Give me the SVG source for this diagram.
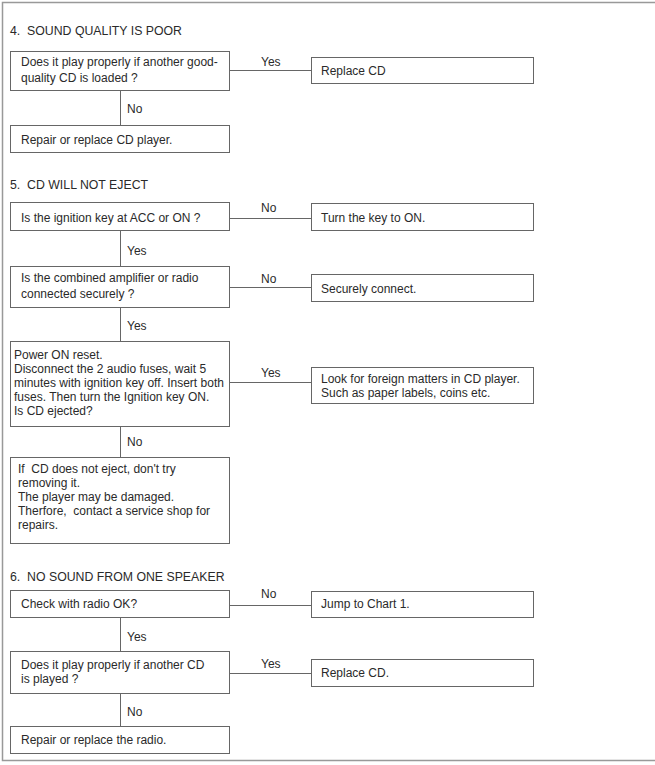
<svg xmlns="http://www.w3.org/2000/svg" width="655" height="765" viewBox="0 0 655 765">
<style>
  .bg{fill:#ffffff}
  .frame{fill:none;stroke:#999;stroke-width:1.5}
  .box{fill:#fff;stroke:#666;stroke-width:1}
  .ln{fill:none;stroke:#666;stroke-width:1}
  text{font-family:"Liberation Sans",Arial,sans-serif;font-size:12px;fill:#2a2a2a}
  .title{font-size:12.3px}
</style>
<rect class="bg" x="0" y="0" width="655" height="765"/>
<path class="frame" d="M660,2.5 H2.5 V760.5 H660"/>

<g id="connectors">
  <line class="ln" x1="230" y1="70.5" x2="311" y2="70.5"/>
  <line class="ln" x1="120.5" y1="90" x2="120.5" y2="125"/>
  <line class="ln" x1="230" y1="218.5" x2="311" y2="218.5"/>
  <line class="ln" x1="120.5" y1="230" x2="120.5" y2="266"/>
  <line class="ln" x1="230" y1="287.5" x2="311" y2="287.5"/>
  <line class="ln" x1="120.5" y1="307" x2="120.5" y2="341"/>
  <line class="ln" x1="230" y1="382.5" x2="311" y2="382.5"/>
  <line class="ln" x1="120.5" y1="426" x2="120.5" y2="457"/>
  <line class="ln" x1="230" y1="605.5" x2="311" y2="605.5"/>
  <line class="ln" x1="120.5" y1="617" x2="120.5" y2="651"/>
  <line class="ln" x1="230" y1="673.5" x2="311" y2="673.5"/>
  <line class="ln" x1="120.5" y1="693" x2="120.5" y2="726"/>
  <text x="261" y="66">Yes</text>
  <text x="127" y="113">No</text>
  <text x="261" y="212">No</text>
  <text x="127" y="255">Yes</text>
  <text x="261" y="283">No</text>
  <text x="127" y="330">Yes</text>
  <text x="261" y="377">Yes</text>
  <text x="127" y="446">No</text>
  <text x="261" y="598">No</text>
  <text x="127" y="641">Yes</text>
  <text x="261" y="668">Yes</text>
  <text x="127" y="716">No</text>
</g>

<text class="title" x="10" y="35" xml:space="preserve">4.  SOUND QUALITY IS POOR</text>
<text class="title" x="10" y="189" xml:space="preserve">5.  CD WILL NOT EJECT</text>
<text class="title" x="10" y="581" xml:space="preserve">6.  NO SOUND FROM ONE SPEAKER</text>

<g id="q4">
  <rect class="box" x="10.5" y="51.5" width="219" height="39"/>
  <text x="21" y="66">Does it play properly if another good-</text>
  <text x="21" y="82">quality CD is loaded ?</text>
</g>
<g id="replace-cd-4">
  <rect class="box" x="311.5" y="57.5" width="222" height="26"/>
  <text x="321" y="75">Replace CD</text>
</g>
<g id="repair-cd-player">
  <rect class="box" x="10.5" y="125.5" width="219" height="27"/>
  <text x="21" y="144">Repair or replace CD player.</text>
</g>

<g id="q5-ignition">
  <rect class="box" x="10.5" y="202.5" width="219" height="28"/>
  <text x="21" y="222">Is the ignition key at ACC or ON ?</text>
</g>
<g id="turn-key">
  <rect class="box" x="311.5" y="203.5" width="222" height="27"/>
  <text x="321" y="222">Turn the key to ON.</text>
</g>
<g id="q5-connected">
  <rect class="box" x="10.5" y="266.5" width="219" height="41"/>
  <text x="21" y="282">Is the combined amplifier or radio</text>
  <text x="21" y="298">connected securely ?</text>
</g>
<g id="securely-connect">
  <rect class="box" x="311.5" y="274.5" width="222" height="27"/>
  <text x="321" y="293">Securely connect.</text>
</g>
<g id="q5-reset">
  <rect class="box" x="10.5" y="341.5" width="219" height="85"/>
  <text x="14" y="359">Power ON reset.</text>
  <text x="14" y="373">Disconnect the 2 audio fuses, wait 5</text>
  <text x="14" y="387">minutes with ignition key off. Insert both</text>
  <text x="14" y="401">fuses. Then turn the Ignition key ON.</text>
  <text x="14" y="415">Is CD ejected?</text>
</g>
<g id="foreign-matters">
  <rect class="box" x="311.5" y="367.5" width="222" height="36"/>
  <text x="321" y="383">Look for foreign matters in CD player.</text>
  <text x="321" y="397">Such as paper labels, coins etc.</text>
</g>
<g id="no-eject">
  <rect class="box" x="10.5" y="457.5" width="219" height="86"/>
  <text x="18" y="473" xml:space="preserve">If  CD does not eject, don't try</text>
  <text x="18" y="487">removing it.</text>
  <text x="18" y="501">The player may be damaged.</text>
  <text x="18" y="515" xml:space="preserve">Therfore,  contact a service shop for</text>
  <text x="18" y="529">repairs.</text>
</g>

<g id="q6-radio">
  <rect class="box" x="10.5" y="590.5" width="219" height="27"/>
  <text x="21" y="608">Check with radio OK?</text>
</g>
<g id="jump-chart">
  <rect class="box" x="311.5" y="591.5" width="222" height="26"/>
  <text x="321" y="608">Jump to Chart 1.</text>
</g>
<g id="q6-cd">
  <rect class="box" x="10.5" y="651.5" width="219" height="42"/>
  <text x="21" y="669">Does it play properly if another CD</text>
  <text x="21" y="683">is played ?</text>
</g>
<g id="replace-cd-6">
  <rect class="box" x="311.5" y="659.5" width="222" height="27"/>
  <text x="321" y="677">Replace CD.</text>
</g>
<g id="repair-radio">
  <rect class="box" x="10.5" y="726.5" width="219" height="27"/>
  <text x="21" y="744">Repair or replace the radio.</text>
</g>
</svg>
